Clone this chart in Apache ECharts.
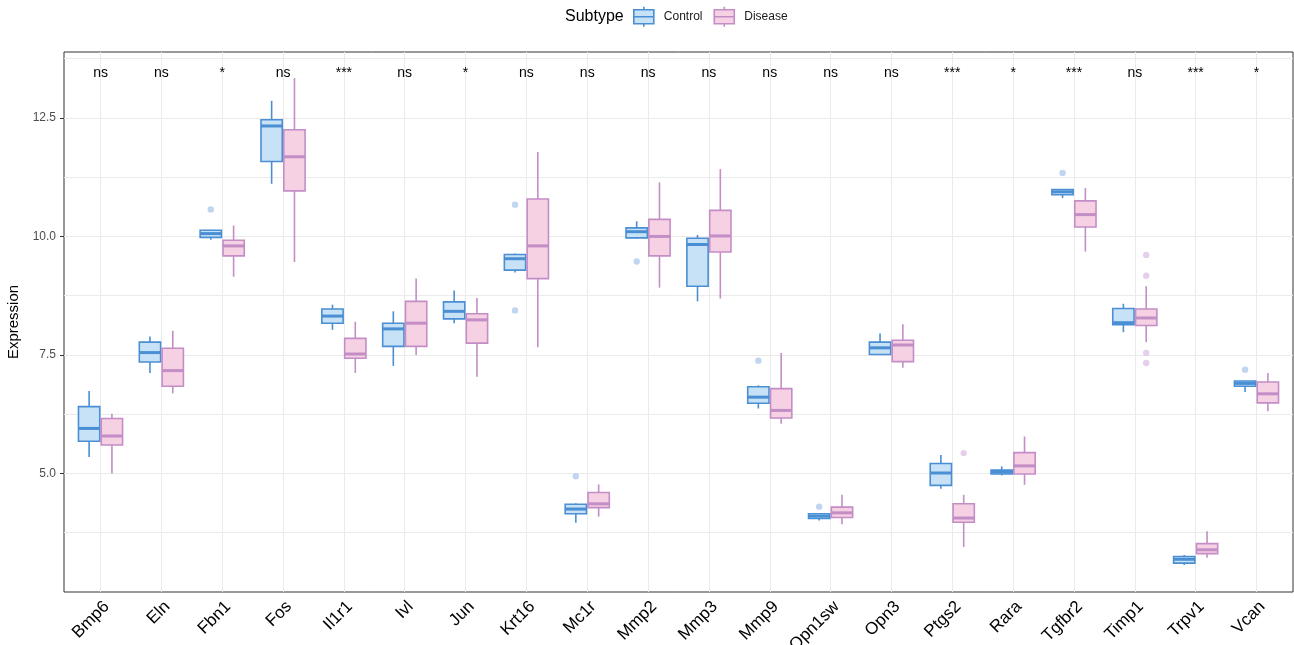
<!DOCTYPE html>
<html>
<head>
<meta charset="utf-8">
<script src="https://cdn.jsdelivr.net/npm/echarts@6/dist/echarts.min.js"></script>
<style>
  html, body, #main { margin: 0; padding: 0; width: 1294px; height: 645px; background: #fff; overflow: hidden; }
</style>
</head>
<body>
<div id="main"></div>
<script>
// genes on the x axis
const genes = ["Bmp6", "Eln", "Fbn1", "Fos", "Il1r1", "Ivl", "Jun", "Krt16", "Mc1r", "Mmp2",
  "Mmp3", "Mmp9", "Opn1sw", "Opn3", "Ptgs2", "Rara", "Tgfbr2", "Timp1", "Trpv1", "Vcan"];
// significance marks above each gene
const sigLabels = ["ns", "ns", "*", "ns", "***", "ns", "*", "ns", "ns", "ns",
  "ns", "ns", "ns", "ns", "***", "*", "***", "ns", "***", "*"];
// box stats: [lower whisker, q1, median, q3, upper whisker]
const controlStats = [
  [5.35, 5.68, 5.95, 6.41, 6.74], [7.12, 7.35, 7.55, 7.77, 7.89], [9.93, 9.98, 10.06, 10.13, 10.13],
  [11.11, 11.58, 12.33, 12.46, 12.86], [8.03, 8.17, 8.32, 8.47, 8.56], [7.27, 7.68, 8.05, 8.17, 8.42],
  [8.17, 8.26, 8.42, 8.62, 8.86], [9.24, 9.29, 9.53, 9.62, 9.64], [3.96, 4.15, 4.25, 4.35, 4.37],
  [9.95, 9.97, 10.1, 10.18, 10.32], [8.63, 8.95, 9.83, 9.96, 10.03], [6.37, 6.48, 6.61, 6.83, 6.86],
  [4.01, 4.05, 4.1, 4.15, 4.15], [7.51, 7.51, 7.65, 7.77, 7.95], [4.68, 4.75, 5.01, 5.21, 5.39],
  [4.96, 4.99, 5.03, 5.07, 5.15], [10.81, 10.88, 10.94, 10.99, 10.99], [7.98, 8.14, 8.18, 8.48, 8.58],
  [3.07, 3.11, 3.19, 3.25, 3.28], [6.72, 6.84, 6.9, 6.95, 6.95]
];
const diseaseStats = [
  [5.0, 5.6, 5.79, 6.16, 6.26], [6.69, 6.84, 7.17, 7.64, 8.01], [9.15, 9.59, 9.8, 9.92, 10.23],
  [9.46, 10.96, 11.68, 12.25, 13.34], [7.12, 7.43, 7.52, 7.85, 8.2], [7.5, 7.68, 8.17, 8.63, 9.11],
  [7.04, 7.75, 8.24, 8.37, 8.7], [7.66, 9.11, 9.8, 10.79, 11.78], [4.09, 4.28, 4.36, 4.6, 4.77],
  [8.92, 9.59, 10.0, 10.36, 11.14], [8.69, 9.67, 10.01, 10.55, 11.42], [6.05, 6.17, 6.33, 6.79, 7.54],
  [3.93, 4.07, 4.17, 4.29, 4.55], [7.23, 7.36, 7.71, 7.81, 8.15], [3.45, 3.97, 4.06, 4.36, 4.55],
  [4.76, 4.99, 5.16, 5.44, 5.78], [9.68, 10.2, 10.46, 10.75, 11.02], [7.77, 8.12, 8.28, 8.47, 8.95],
  [3.22, 3.31, 3.39, 3.52, 3.78], [6.31, 6.49, 6.68, 6.93, 7.12]
];
// outliers: [gene index, value]
const controlOutliers = [[2, 10.57], [7, 10.67], [7, 8.44], [8, 4.94], [9, 9.47], [11, 7.38],
  [12, 4.3], [16, 11.34], [19, 7.19]];
const diseaseOutliers = [[14, 5.43], [17, 9.61], [17, 9.17], [17, 7.54], [17, 7.33]];

const yMin = 2.5, yMax = 13.89, sigY = 13.45;

const ctrlColor = { line: "#4A8FD3", fill: "#C7E2F6", dot: "#C2D5F0" };
const disColor = { line: "#C38DC6", fill: "#F6D1E4", dot: "#E6CFEC" };

function boxRenderer(offset, col) {
  return function (params, api) {
    const i = api.value(0);
    const band = api.size([1, 0])[0];
    const cx = api.coord([i, 0])[0] + offset * band;
    const half = 0.175 * band;
    const y = (v) => api.coord([i, v])[1];
    const lo = y(api.value(1)), q1 = y(api.value(2)), med = y(api.value(3)),
      q3 = y(api.value(4)), hi = y(api.value(5));
    return {
      type: "group",
      children: [
        { type: "line", shape: { x1: cx, y1: hi, x2: cx, y2: q3 }, style: { stroke: col.line, lineWidth: 1.6 } },
        { type: "line", shape: { x1: cx, y1: q1, x2: cx, y2: lo }, style: { stroke: col.line, lineWidth: 1.6 } },
        { type: "rect", shape: { x: cx - half, y: q3, width: half * 2, height: Math.max(q1 - q3, 1) },
          style: { fill: col.fill, stroke: col.line, lineWidth: 1.6 } },
        { type: "line", shape: { x1: cx - half, y1: med, x2: cx + half, y2: med },
          style: { stroke: col.line, lineWidth: 3 } }
      ]
    };
  };
}

function dotRenderer(offset, col) {
  return function (params, api) {
    const i = api.value(0);
    const band = api.size([1, 0])[0];
    const p = api.coord([i, api.value(1)]);
    return { type: "circle", shape: { cx: p[0] + offset * band, cy: p[1], r: 3.2 }, style: { fill: col.dot } };
  };
}

const boxIcon = "path://M10,0L10,3M0,3L20,3L20,17L0,17ZM0,10L20,10M10,17L10,20";
const font = "Liberation Sans, Arial, Helvetica, sans-serif";

const myChart = echarts.init(document.getElementById("main"));
const option = {
  backgroundColor: "#fff",
  animation: false,
  title: {
    text: "Subtype",
    left: 560, top: 4,
    textStyle: { fontFamily: font, fontSize: 16, fontWeight: "normal", color: "#000" }
  },
  legend: {
    left: 628, top: 1,
    itemWidth: 20, itemHeight: 22, itemGap: 11,
    textStyle: { fontFamily: font, fontSize: 12, color: "#1a1a1a", padding: [0, 0, 0, 5] },
    data: [
      { name: "Control", icon: boxIcon, itemStyle: { color: ctrlColor.fill, borderColor: ctrlColor.line, borderWidth: 1.6 } },
      { name: "Disease", icon: boxIcon, itemStyle: { color: disColor.fill, borderColor: disColor.line, borderWidth: 1.6 } }
    ]
  },
  grid: [
    // boxes, category bands (ggplot adds 0.6 band each side)
    { left: 70.1, right: 7.1, top: 52, bottom: 53, outerBoundsMode: "none" },
    // panel with border
    { left: 64, right: 1, top: 52, bottom: 53, outerBoundsMode: "none", show: true,
      borderColor: "#333", borderWidth: 1, backgroundColor: "transparent" }
  ],
  xAxis: [
    {
      gridIndex: 0, type: "category", data: genes, boundaryGap: true,
      axisLine: { show: false },
      axisTick: { alignWithLabel: true, length: 4, lineStyle: { color: "#333" } },
      splitLine: { show: true, alignWithLabel: true, lineStyle: { color: "#EBEBEB", width: 1 } },
      axisLabel: { rotate: 45, margin: 6, align: "right", verticalAlign: "top",
        fontFamily: font, fontSize: 17, color: "#000", interval: 0 }
    },
    { gridIndex: 1, type: "value", min: 0, max: 1, show: false }
  ],
  yAxis: [
    {
      gridIndex: 1, type: "value", min: yMin, max: yMax, interval: 2.5,
      name: "Expression", nameLocation: "middle", nameGap: 30,
      nameTextStyle: { fontFamily: font, fontSize: 15, color: "#000" },
      axisLine: { show: false },
      axisTick: { show: true, length: 4, lineStyle: { color: "#333" } },
      axisLabel: { showMinLabel: false, showMaxLabel: false, fontFamily: font, fontSize: 12, color: "#4D4D4D",
        formatter: (v) => v.toFixed(1) },
      splitLine: { show: false }
    },
    {
      gridIndex: 1, type: "value", min: yMin, max: yMax, interval: 1.25, position: "left",
      axisLine: { show: false }, axisTick: { show: false }, axisLabel: { show: false },
      splitLine: { show: true, showMinLine: false, showMaxLine: false, lineStyle: { color: "#EBEBEB", width: 1 } }
    },
    { gridIndex: 0, type: "value", min: yMin, max: yMax, show: false }
  ],
  series: [
    {
      name: "Control", type: "custom", xAxisIndex: 0, yAxisIndex: 2,
      itemStyle: { color: ctrlColor.fill, borderColor: ctrlColor.line },
      renderItem: boxRenderer(-0.1875, ctrlColor),
      encode: { x: 0, y: [1, 2, 3, 4, 5] },
      data: controlStats.map((s, i) => [i].concat(s))
    },
    {
      name: "Disease", type: "custom", xAxisIndex: 0, yAxisIndex: 2,
      itemStyle: { color: disColor.fill, borderColor: disColor.line },
      renderItem: boxRenderer(0.1875, disColor),
      encode: { x: 0, y: [1, 2, 3, 4, 5] },
      data: diseaseStats.map((s, i) => [i].concat(s))
    },
    {
      name: "Control", type: "custom", xAxisIndex: 0, yAxisIndex: 2,
      renderItem: dotRenderer(-0.1875, ctrlColor),
      encode: { x: 0, y: 1 },
      data: controlOutliers
    },
    {
      name: "Disease", type: "custom", xAxisIndex: 0, yAxisIndex: 2,
      renderItem: dotRenderer(0.1875, disColor),
      encode: { x: 0, y: 1 },
      data: diseaseOutliers
    },
    {
      name: "sig", type: "custom", xAxisIndex: 0, yAxisIndex: 2,
      renderItem: function (params, api) {
        const p = api.coord([api.value(0), sigY]);
        return {
          type: "text",
          style: { text: sigLabels[params.dataIndex], x: p[0], y: p[1], align: "center", verticalAlign: "middle",
            fill: "#000", font: "14px " + font }
        };
      },
      data: genes.map((g, i) => [i, sigY])
    }
  ]
};
myChart.setOption(option);
window.onresize = myChart.resize;
</script>
</body>
</html>
